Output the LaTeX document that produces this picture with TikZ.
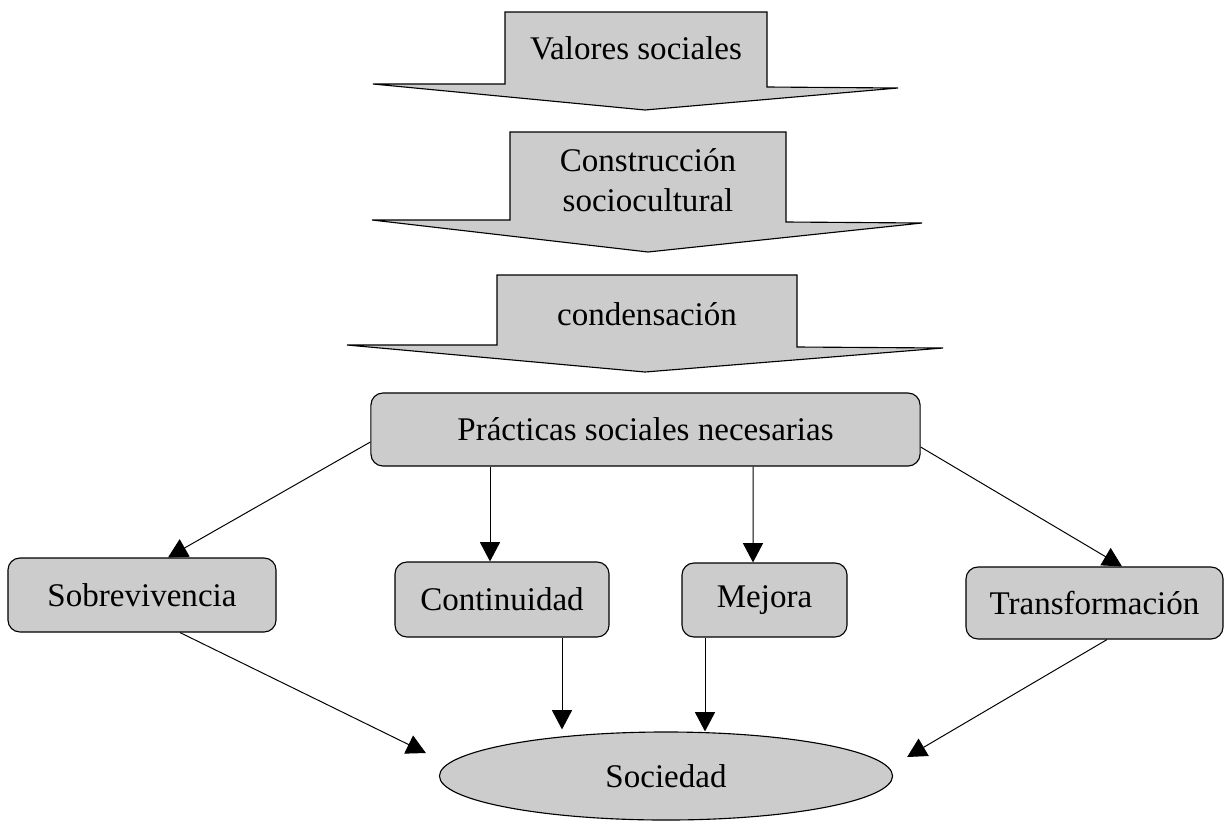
\documentclass[tikz,border=0pt]{standalone}
\usepackage{fontspec}
\setmainfont{Liberation Serif}
\usetikzlibrary{arrows.meta,calc,shapes.geometric}
\definecolor{boxgray}{gray}{0.8}

\begin{document}
\begin{tikzpicture}[x=0.025cm, y=-0.025cm,
        every node/.style={font=\fontsize{23.5}{28}\selectfont},
        bigarrow/.style={draw=black, fill=boxgray, line width=0.8pt},
        box/.style={draw=black, fill=boxgray, line width=0.8pt, rounded corners=0.3cm, inner sep=0pt},
        link/.style={draw=black, line width=0.7pt, -{Triangle[length=0.48cm, width=0.5cm]}}]
            \useasboundingbox (0,0) rectangle (1224,824);

            \filldraw[bigarrow] (505,12) -- (767,12) -- (767,87) -- (898,88) -- (645,110) -- (373,84) -- (505,84) -- cycle;
            \filldraw[bigarrow] (510,132) -- (786,132) -- (786,222) -- (922,223) -- (648,252) -- (372,220) -- (510,220) -- cycle;
            \filldraw[bigarrow] (497,275) -- (797,275) -- (797,347) -- (943,348) -- (645,372) -- (347,345) -- (497,345) -- cycle;

            \node (valores) at (636,48) {Valores sociales};
            \node[align=center] (constr) at (648,180) {Construcción\\sociocultural};
            \node (cond) at (647,314) {condensación};

            \node[box, minimum width=13.725cm, minimum height=1.825cm] (prac) at (645.5,429.5) {Prácticas sociales necesarias};

            \node[box, minimum width=6.7cm, minimum height=1.85cm] (sob) at (142,595) {Sobrevivencia};
            \node[box, minimum width=5.35cm, minimum height=1.875cm] (cont) at (502,599.5) {Continuidad};
            \node[box, minimum width=4.125cm, minimum height=1.85cm] (mej) at (764.5,600) {Mejora};
            \node[box, minimum width=6.425cm, minimum height=1.8cm] (trans) at (1094.5,603) {Transformación};

            \node[ellipse, draw=black, fill=boxgray, line width=0.8pt, inner sep=0pt,
                minimum width=11.325cm, minimum height=2.2cm] (soc) at (666,776) {Sociedad};

            \draw[link] ($(prac.west)+(0,12.5)$) -- ($(sob.north)+(26,0)$);
            \draw[link] ($(prac.south)+(-155.5,0)$) -- ($(cont.north)+(-12,0)$);
            \draw[link] ($(prac.south)+(107.5,0)$) -- ($(mej.north)+(-11.5,0)$);
            \draw[link] ($(prac.east)+(0,17.5)$) -- ($(trans.north)+(27.5,0)$);

            \draw[link] ($(sob.south)+(38,0)$) -- ($(soc.west)+(-13,-23)$);
            \draw[link] ($(cont.south)+(60,0)$) -- ($(soc.north)+(-104,-2)$);
            \draw[link] ($(mej.south)+(-59.5,0)$) -- ($(soc.north)+(39,0)$);
            \draw[link] ($(trans.south)+(12.5,0)$) -- ($(soc.east)+(14,-19)$);
        \end{tikzpicture}
\end{document}
